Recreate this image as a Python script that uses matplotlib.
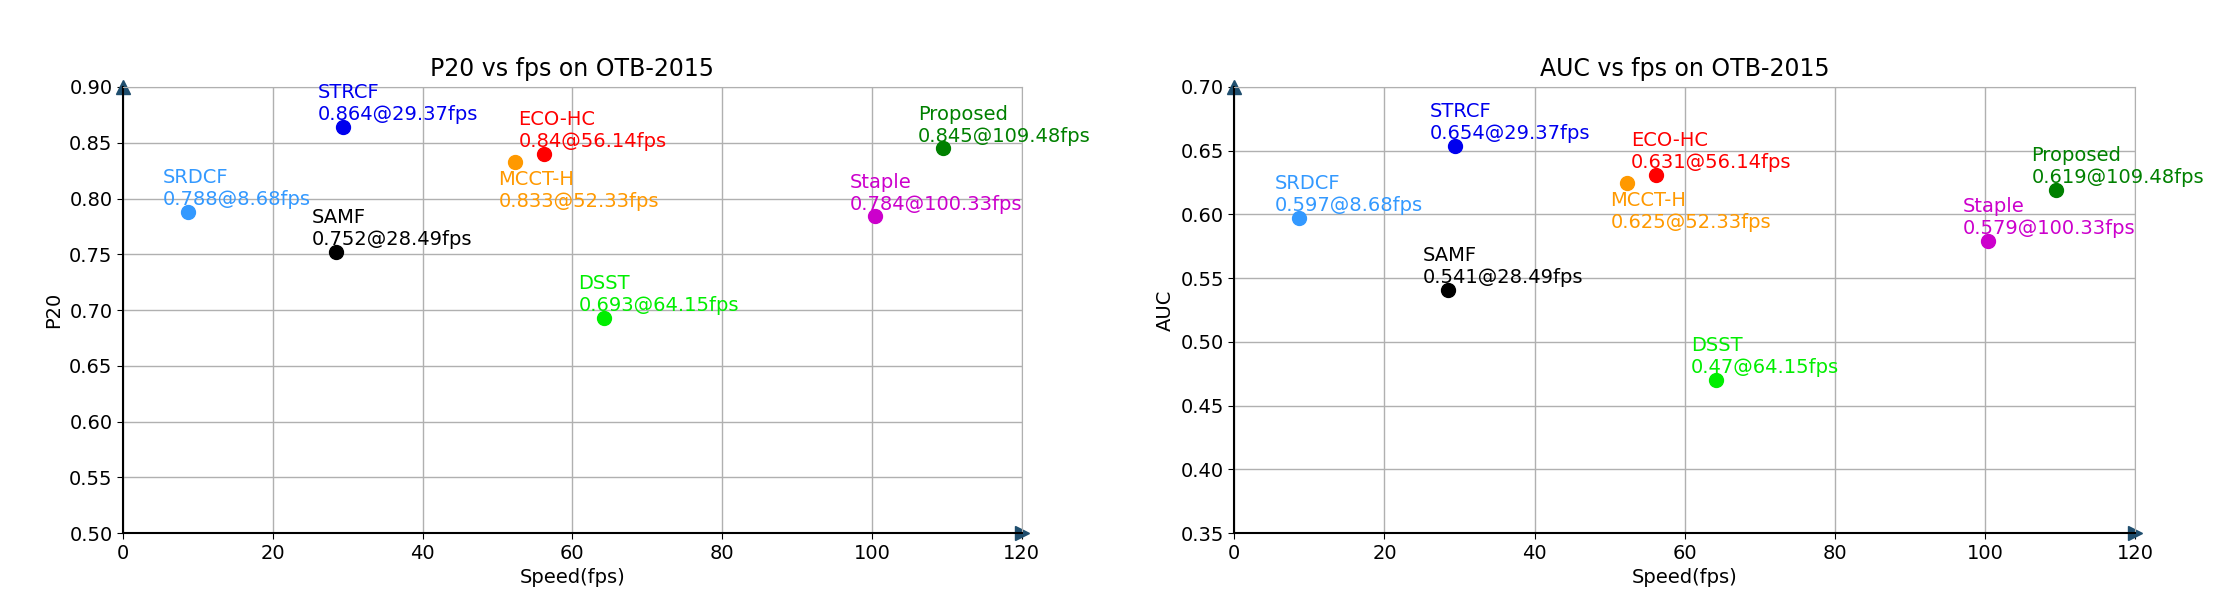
import matplotlib
matplotlib.use("Agg")
import matplotlib.pyplot as plt

names = ["SRDCF", "STRCF", "SAMF", "MCCT-H", "ECO-HC", "DSST", "Staple", "Proposed"]
fps = [8.68, 29.37, 28.49, 52.33, 56.14, 64.15, 100.33, 109.48]
p20 = [0.788, 0.864, 0.752, 0.833, 0.84, 0.693, 0.784, 0.845]
auc = [0.597, 0.654, 0.541, 0.625, 0.631, 0.47, 0.579, 0.619]
auc_lbl = ["0.597", "0.654", "0.541", "0.625", "0.631", "0.47", "0.579", "0.619"]
p20_lbl = ["0.788", "0.864", "0.752", "0.833", "0.84", "0.693", "0.784", "0.845"]
colors = ["#3399ff", "#0000ee", "black", "#ff9900", "red", "#00ee00", "#cc00cc", "green"]
below = [False, False, False, True, False, False, False, False]

fig = plt.figure(figsize=(22.36, 6.08), dpi=100)
ax1 = fig.add_axes([0.055, 0.123, 0.402, 0.734])
ax2 = fig.add_axes([0.552, 0.123, 0.403, 0.734])

def draw(ax, vals, lbls, ylim, yticks, ylabel, title):
    for i in range(len(names)):
        ax.plot(fps[i], vals[i], 'o', color=colors[i], ms=10, zorder=3)
        txt = f"{names[i]}\n{lbls[i]}@{fps[i]}fps"
        if below[i]:
            ax.annotate(txt, (fps[i], vals[i]), xytext=(-12, -6), textcoords='offset points',
                        ha='left', va='top', color=colors[i], fontsize=14, linespacing=1.2)
        else:
            ax.annotate(txt, (fps[i], vals[i]), xytext=(-18, 2), textcoords='offset points',
                        ha='left', va='bottom', color=colors[i], fontsize=14, linespacing=1.2)
    ax.set_xlim(0, 120)
    ax.set_ylim(*ylim)
    ax.set_xticks(range(0, 121, 20))
    ax.set_yticks(yticks)
    ax.set_yticklabels([f"{t:.2f}" for t in yticks])
    ax.grid(True, color='#b0b0b0', lw=1)
    for s in ['top', 'right']:
        ax.spines[s].set_color('#b0b0b0')
    for s in ['left', 'bottom']:
        ax.spines[s].set_linewidth(1.5)
    ax.plot(1, 0, '>', color='#1f4e6e', ms=10, transform=ax.transAxes, clip_on=False)
    ax.plot(0, 1, '^', color='#1f4e6e', ms=10, transform=ax.transAxes, clip_on=False)
    ax.tick_params(labelsize=14, length=4)
    ax.set_xlabel("Speed(fps)", fontsize=14)
    ax.set_ylabel(ylabel, fontsize=14)
    ax.set_title(title, fontsize=17, pad=8)

draw(ax1, p20, p20_lbl, (0.5, 0.9), [0.5 + 0.05 * i for i in range(9)], "P20", "P20 vs fps on OTB-2015")
draw(ax2, auc, auc_lbl, (0.35, 0.7), [0.35 + 0.05 * i for i in range(8)], "AUC", "AUC vs fps on OTB-2015")
fig.savefig("out.png", dpi=100)
